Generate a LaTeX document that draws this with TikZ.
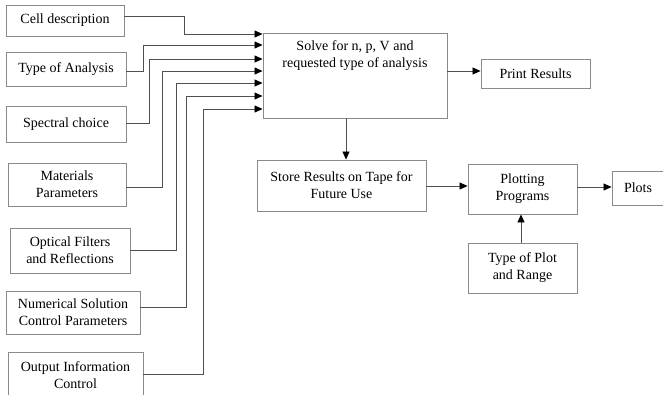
\documentclass[tikz,border=0pt]{standalone}
\usepackage{fontspec}
\setmainfont{Liberation Serif}
\usetikzlibrary{arrows.meta}
\definecolor{boxgray}{HTML}{8A8A8A}
\definecolor{linegray}{HTML}{505050}
\begin{document}
\begin{tikzpicture}[x=1pt,y=-1pt,
  box/.style={draw=boxgray, line width=0.9pt, rectangle, inner sep=0pt, align=center,
    font=\fontsize{14}{17}\selectfont},
  conn/.style={draw=linegray, line width=0.8pt, -{Triangle[length=8pt,width=7pt,fill=black,color=black]}},
  plain/.style={draw=linegray, line width=0.8pt}
]
\useasboundingbox (0,0) rectangle (663,394);
\fill[white] (0,0) rectangle (663,394);
% input boxes
\node[box, minimum width=118pt, minimum height=31pt] (cell) at (65,20.5) {Cell description};
\node[box, minimum width=120pt, minimum height=34pt] (toa) at (66,69) {Type of Analysis};
\node[box, minimum width=120pt, minimum height=36pt] (spec) at (66,124) {Spectral choice};
\node[box, minimum width=118pt, minimum height=43pt] (mat) at (67,184.5) {Materials\\Parameters};
\node[box, minimum width=120pt, minimum height=45pt] (opt) at (70,250.5) {Optical Filters\\and Reflections};
\node[box, minimum width=134pt, minimum height=43pt] (num) at (73,312.5) {Numerical Solution\\Control Parameters};
\node[box, minimum width=135pt, minimum height=46pt] (out) at (75.5,375) {Output Information\\Control};
% main
\node[box, minimum width=184pt, minimum height=85pt] (main) at (355,75.5) {};
\node[anchor=north, align=center, inner sep=0pt, font=\fontsize{14}{17}\selectfont] (maintext)
  at ([yshift=-8pt]main.north) {Solve for n, p, V and\\requested type of analysis};
\node[box, minimum width=109pt, minimum height=29pt] (print) at (535.5,73.5) {Print Results};
\node[box, minimum width=169pt, minimum height=51pt] (store) at (341.5,185.5) {Store Results on Tape for\\Future Use};
\node[box, minimum width=109pt, minimum height=50pt] (plotp) at (522.5,189) {Plotting\\Programs};
\node[box, minimum width=52pt, minimum height=34pt] (plots) at (638,188) {Plots};
\node[box, minimum width=109pt, minimum height=50pt] (typeplot) at (522.5,268) {Type of Plot\\and Range};
% input connectors
\draw[conn] (cell.east |- 0,16) -| (184,34) -- (main.west |- 0,34);
\draw[conn] (toa.east |- 0,71) -| (143,45) -- (main.west |- 0,45);
\draw[conn] (spec.east |- 0,123) -| (149,59) -- (main.west |- 0,59);
\draw[conn] (mat.east |- 0,187) -| (162,71) -- (main.west |- 0,71);
\draw[conn] (opt.east |- 0,250) -| (176,83) -- (main.west |- 0,83);
\draw[conn] (num.east |- 0,307) -| (186,96) -- (main.west |- 0,96);
\draw[conn] (out.east |- 0,374) -| (203,109) -- (main.west |- 0,109);
% other connectors
\draw[conn] (main.east |- 0,71) -- (print.west |- 0,71);
\draw[conn] (main.south -| 346,0) -- (store.north -| 346,0);
\draw[conn] (store.east |- 0,186) -- (plotp.west |- 0,186);
\draw[conn] (plotp.east |- 0,187) -- (plots.west |- 0,187);
\draw[conn] (typeplot.north -| 521,0) -- (plotp.south -| 521,0);
\end{tikzpicture}
\end{document}
